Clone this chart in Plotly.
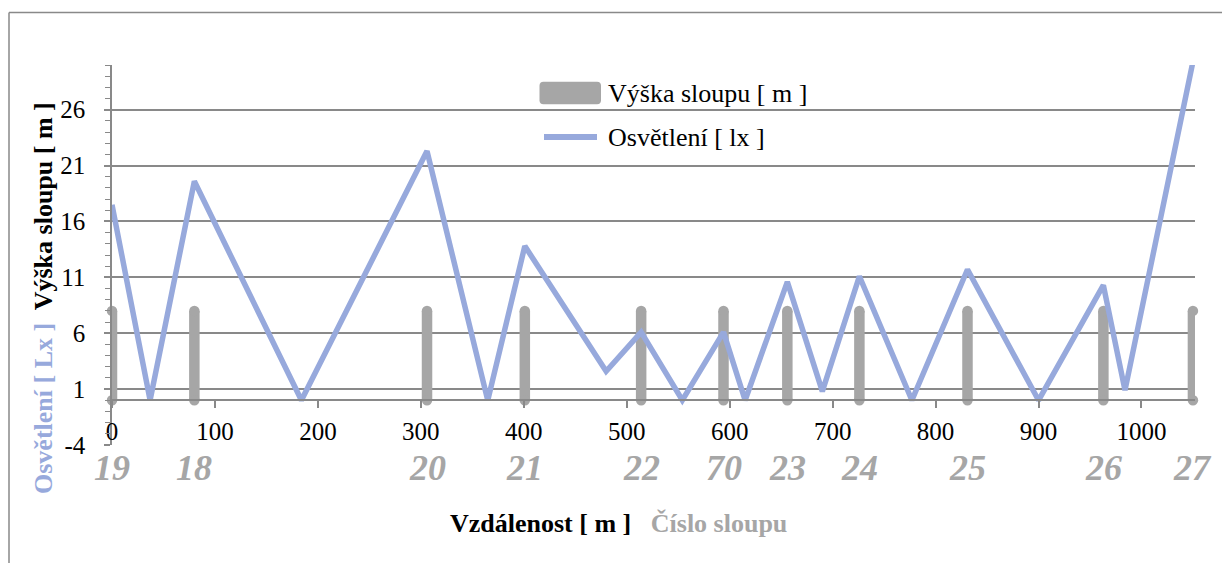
import plotly.graph_objects as go

# ---- data ----
pole_x = [0, 80, 306, 401, 514, 594, 656, 726, 831, 963, 1050]
pole_height = [8, 8, 8, 8, 8, 8, 8, 8, 8, 8, 8]
pole_labels = ["19", "18", "20", "21", "22", "70", "23", "24", "25", "26", "27"]

light_x = [0, 37, 80, 184, 306, 365, 401, 480, 514, 554, 594, 615, 656, 690, 726, 777, 831, 900, 963, 984, 1050]
light_y = [17.5, 0, 19.6, 0, 22.3, 0, 13.8, 2.6, 6.1, 0, 6.1, 0, 10.6, 0.8, 11.1, 0, 11.7, 0, 10.3, 0.9, 30.3]

x_ticks = [0, 100, 200, 300, 400, 500, 600, 700, 800, 900, 1000]
y_ticks = [-4, 1, 6, 11, 16, 21, 26]

# ---- styles ----
W, H = 1222, 563
ML, MR, MT, MB = 112, 27, 65, 118
PW, PH = W - ML - MR, H - MT - MB
FONT = "Liberation Serif, Times New Roman, serif"
GRID = "#898989"
POLE = "#A6A6A6"
LINE = "#97A9DC"
YMIN, YMAX = -4, 30


def px(xp):
    return (xp - ML) / PW


def py(yp):
    return (H - MB - yp) / PH


fig = go.Figure()

# poles as thick segments
seg_x, seg_y = [], []
for xv, hv in zip(pole_x, pole_height):
    seg_x += [xv, xv, None]
    seg_y += [0, hv, None]
fig.add_trace(go.Scatter(x=seg_x, y=seg_y, mode="lines",
                         line=dict(color=POLE, width=10.5),
                         name="Výška sloupu [ m ]", showlegend=False, hoverinfo="skip"))
cap_x, cap_y = [], []
for xv, hv in zip(pole_x, pole_height):
    cap_x += [xv, xv]
    cap_y += [0, hv]
fig.add_trace(go.Scatter(x=cap_x, y=cap_y, mode="markers",
                         marker=dict(color=POLE, size=10.5, line=dict(width=0)),
                         cliponaxis=False, showlegend=False, hoverinfo="skip"))

fig.add_trace(go.Scatter(x=light_x, y=light_y, mode="lines",
                         line=dict(color=LINE, width=5.5),
                         name="Osvětlení [ lx ]", showlegend=False))

shapes = []
# chart frame
shapes.append(dict(type="line", xref="paper", yref="paper",
                   x0=px(9), x1=px(9), y0=py(12.5), y1=py(H + 5),
                   line=dict(color=GRID, width=1.5)))
shapes.append(dict(type="line", xref="paper", yref="paper",
                   x0=px(9), x1=px(W + 5), y0=py(12.5), y1=py(12.5),
                   line=dict(color=GRID, width=1.5)))

# legend symbols
x0, x1, y0, y1, r = 539.5, 601, 81.7, 104.3, 4
path = (f"M{px(x0 + r)},{py(y0)} L{px(x1 - r)},{py(y0)} Q{px(x1)},{py(y0)} {px(x1)},{py(y0 + r)} "
        f"L{px(x1)},{py(y1 - r)} Q{px(x1)},{py(y1)} {px(x1 - r)},{py(y1)} "
        f"L{px(x0 + r)},{py(y1)} Q{px(x0)},{py(y1)} {px(x0)},{py(y1 - r)} "
        f"L{px(x0)},{py(y0 + r)} Q{px(x0)},{py(y0)} {px(x0 + r)},{py(y0)} Z")
shapes.append(dict(type="path", xref="paper", yref="paper", path=path,
                   fillcolor=POLE, line=dict(width=0)))
shapes.append(dict(type="line", xref="paper", yref="paper",
                   x0=px(544), x1=px(597), y0=py(137), y1=py(137),
                   line=dict(color=LINE, width=6)))

annotations = []
annotations.append(dict(xref="paper", yref="paper", x=px(606), y=py(93),
                        text="Výška sloupu [ m ]", showarrow=False, xanchor="left", yanchor="middle",
                        font=dict(family=FONT, size=26, color="black")))
annotations.append(dict(xref="paper", yref="paper", x=px(606), y=py(137),
                        text="Osvětlení [ lx ]", showarrow=False, xanchor="left", yanchor="middle",
                        font=dict(family=FONT, size=26, color="black")))

for xv, lab in zip(pole_x, pole_labels):
    annotations.append(dict(xref="x", yref="paper", x=xv, y=py(468),
                            text=f"<b><i>{lab}</i></b>", showarrow=False,
                            xanchor="center", yanchor="middle",
                            font=dict(family=FONT, size=36, color=POLE)))

annotations.append(dict(xref="paper", yref="paper", x=px(43), y=py(298), textangle=-90,
                        text=f"<b><span style='color:{LINE}'>Osvětlení [ Lx ]</span>&nbsp; Výška sloupu [ m ]</b>",
                        showarrow=False, xanchor="center", yanchor="middle",
                        font=dict(family=FONT, size=26, color="black")))
annotations.append(dict(xref="paper", yref="paper", x=px(618), y=py(523),
                        text=f"<b>Vzdálenost [ m ]&nbsp;&nbsp; <span style='color:{POLE}'>Číslo sloupu</span></b>",
                        showarrow=False, xanchor="center", yanchor="middle",
                        font=dict(family=FONT, size=26, color="black")))

fig.update_layout(
    width=W, height=H,
    margin=dict(l=ML, r=MR, t=MT, b=MB, pad=0),
    paper_bgcolor="white", plot_bgcolor="white",
    showlegend=False,
    font=dict(family=FONT, size=25, color="black"),
    shapes=shapes, annotations=annotations,
    xaxis=dict(range=[0, 1052], anchor="free", position=(0 - YMIN) / (YMAX - YMIN),
               showgrid=False, zeroline=False,
               showline=True, linecolor=GRID, linewidth=1.5,
               ticks="outside", ticklen=7, tickwidth=1.5, tickcolor=GRID,
               tickvals=x_ticks, ticktext=[str(v) for v in x_ticks],
               tickfont=dict(family=FONT, size=25, color="black"),
               ticklabelstandoff=2),
    yaxis=dict(range=[YMIN, YMAX], domain=[0, 1],
               tickvals=y_ticks, ticktext=[str(v) for v in y_ticks],
               showgrid=True, gridcolor=GRID, gridwidth=1.5,
               zeroline=False,
               showline=True, linecolor=GRID, linewidth=1.5,
               ticks="outside", ticklen=6, tickwidth=1.5, tickcolor=GRID,
               minor=dict(dtick=1, tick0=0, ticks="outside", ticklen=5, tickwidth=1.2,
                          tickcolor=GRID, showgrid=False),
               tickfont=dict(family=FONT, size=25, color="black"),
               ticklabelstandoff=14),
)

fig.write_html("out.html")
